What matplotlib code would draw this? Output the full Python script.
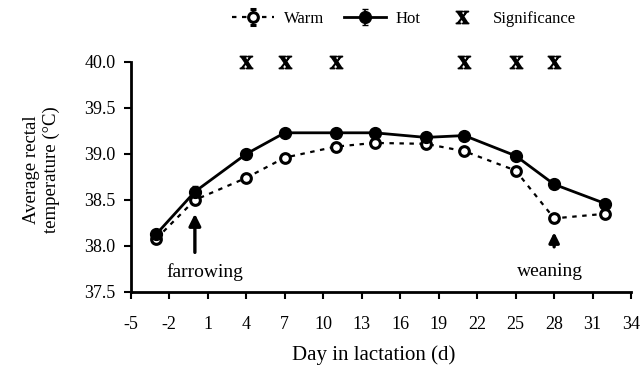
import numpy as np
import matplotlib
matplotlib.use('Agg')
import matplotlib.pyplot as plt

plt.rcParams['font.family'] = ['Liberation Serif', 'DejaVu Serif']
plt.rcParams['mathtext.fontset'] = 'stix'
plt.rcParams['axes.unicode_minus'] = False

# data
days = [-3, 0, 4, 7, 11, 14, 18, 21, 25, 28, 32]
warm = [38.08, 38.50, 38.74, 38.96, 39.08, 39.12, 39.11, 39.03, 38.82, 38.30, 38.35]
warm_err = [0.03, 0.04, 0.03, 0.03, 0.04, 0.03, 0.03, 0.04, 0.04, 0.04, 0.03]
hot = [38.13, 38.59, 39.00, 39.23, 39.23, 39.23, 39.18, 39.20, 38.98, 38.67, 38.46]
hot_err = [0.03, 0.06, 0.03, 0.04, 0.04, 0.04, 0.03, 0.03, 0.04, 0.04, 0.03]
sig_days = [4, 7, 11, 21, 25, 28]
sig_level = 40.0
xticks = list(range(-5, 35, 3))
yticks = [37.5, 38.0, 38.5, 39.0, 39.5, 40.0]

fig = plt.figure(figsize=(6.44, 3.71), dpi=100)
ax = fig.add_axes([0.203, 0.213, 0.777, 0.62])

h_warm = ax.errorbar(days, warm, yerr=warm_err, color='black', ls=(0, (2, 2.5)), lw=1.6,
                     marker='o', ms=7, mfc='white', mec='black', mew=2.2, capsize=2,
                     elinewidth=1.2, label='Warm', zorder=3)
h_hot = ax.errorbar(days, hot, yerr=hot_err, color='black', ls='-', lw=2.0,
                    marker='o', ms=8.5, mfc='black', mec='black', capsize=2,
                    elinewidth=1.2, label='Hot', zorder=4)
h_sig, = ax.plot(sig_days, [sig_level] * len(sig_days), ls='none', marker=r'$\mathbf{X}$',
                 ms=9, color='black', clip_on=False, label='Significance')

# event annotations
ax.annotate('', xy=(0, 38.38), xytext=(0, 37.9),
            arrowprops=dict(arrowstyle='-|>,head_width=0.35,head_length=0.7', lw=2.4, color='black'))
ax.text(0.8, 37.72, 'farrowing', ha='center', va='center', fontsize=14)
ax.annotate('', xy=(28, 38.18), xytext=(28, 37.96),
            arrowprops=dict(arrowstyle='-|>,head_width=0.3,head_length=0.6', lw=2.4, color='black'))
ax.text(27.7, 37.72, 'weaning', ha='center', va='center', fontsize=14)

ax.set_xlim(-5, 34)
ax.set_ylim(37.5, 40.0)
ax.set_xticks(xticks)
ax.set_yticks(yticks)
ax.set_yticklabels([f'{v:.1f}' for v in yticks])
ax.tick_params(direction='out', length=5, width=1.5, labelsize=13)
ax.tick_params(axis='x', pad=12)
ax.tick_params(axis='y', pad=6)
for s in ['top', 'right']:
    ax.spines[s].set_visible(False)
for s in ['left', 'bottom']:
    ax.spines[s].set_linewidth(2)

ax.set_xlabel('Day in lactation (d)', fontsize=15)
ax.set_ylabel('Average rectal\ntemperature (\u00b0C)', fontsize=13.5)
ax.xaxis.set_label_coords(0.486, -0.23)
ax.yaxis.set_label_coords(-0.142, 0.53)

ax.legend([h_warm, h_hot, h_sig], ['Warm', 'Hot', 'Significance'],
          loc='center', bbox_to_anchor=(0.546, 1.187), ncol=3, frameon=False,
          fontsize=12, handlelength=2.5, columnspacing=1.2, handletextpad=0.6)

fig.savefig('out.png', dpi=100)
